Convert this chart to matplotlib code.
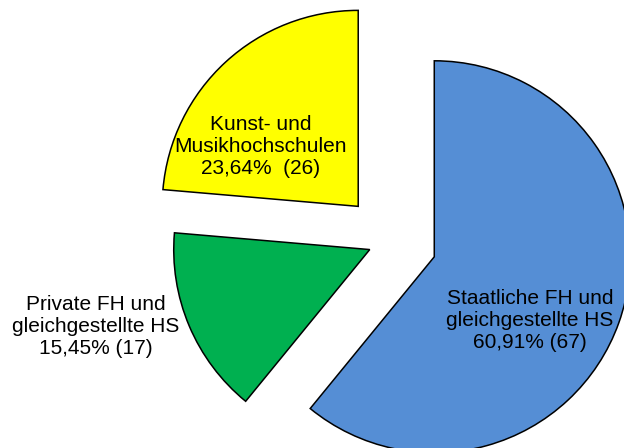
import matplotlib
matplotlib.use("Agg")
import matplotlib.pyplot as plt

# Hochschulen nach Trägerschaft
categories = ["Staatliche FH und\ngleichgestellte HS",
              "Private FH und\ngleichgestellte HS",
              "Kunst- und\nMusikhochschulen"]
counts = [67, 17, 26]
colors = ["#558ED5", "#00B050", "#FFFF00"]
explode = [47, 22, 47]   # in pixel units

plt.rcParams["font.family"] = ["Liberation Sans", "DejaVu Sans"]

fig = plt.figure(figsize=(6.24, 4.48), dpi=100)
ax = fig.add_axes([0, 0, 1, 1])

ax.pie(counts, colors=colors, explode=explode, startangle=90,
       counterclock=False, radius=196, center=(390, -241),
       wedgeprops=dict(edgecolor="black", linewidth=1.1))

ax.set_xlim(0, 624)
ax.set_ylim(-448, 0)
ax.set_aspect("equal")
ax.axis("off")

total = sum(counts)
def pct(n):
    return f"{100 * n / total:.2f}".replace(".", ",") + "%"

# Beschriftungen
ax.text(530, -320, f"{categories[0]}\n{pct(counts[0])} ({counts[0]})",
        ha="center", va="center", fontsize=15, linespacing=1.2)
ax.text(96, -327, f"{categories[1]}\n{pct(counts[1])} ({counts[1]})",
        ha="center", va="center", fontsize=15, linespacing=1.2)
ax.text(261, -146, f"{categories[2]}\n{pct(counts[2])}  ({counts[2]})",
        ha="center", va="center", fontsize=15, linespacing=1.2)

fig.savefig("out.png", dpi=100)
